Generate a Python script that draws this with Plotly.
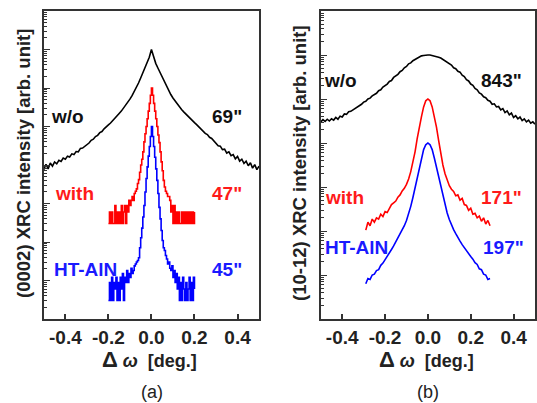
import numpy as np
import plotly.graph_objects as go

# ---------------- data (log10 of XRC intensity, arb. unit) ----------------
# Panel (a): (0002) rocking curves
xa_wide = np.round(np.arange(-0.50, 0.5001, 0.01), 3)
a_wo_log = [
    3.88, 4.02, 3.90, 4.05, 3.97, 4.08, 4.03, 4.12, 4.09, 4.18,
    4.15, 4.23, 4.21, 4.29, 4.27, 4.35, 4.34, 4.43, 4.44, 4.48,
    4.54, 4.57, 4.64, 4.67, 4.74, 4.77, 4.84, 4.87, 4.94, 4.98,
    5.04, 5.09, 5.16, 5.22, 5.27, 5.34, 5.40, 5.47, 5.54, 5.62,
    5.71, 5.80, 5.90, 6.00, 6.13, 6.26, 6.40, 6.53, 6.65, 6.80,
    7.00,
    6.80, 6.64, 6.52, 6.40, 6.28, 6.16, 6.04, 5.93, 5.83, 5.74,
    5.66, 5.58, 5.51, 5.44, 5.38, 5.32, 5.27, 5.21, 5.15, 5.10,
    5.05, 4.99, 4.93, 4.89, 4.82, 4.79, 4.72, 4.69, 4.62, 4.58,
    4.50, 4.49, 4.40, 4.41, 4.31, 4.34, 4.24, 4.27, 4.16, 4.22,
    4.10, 4.15, 4.04, 4.10, 3.98, 4.06, 3.92, 4.01, 3.88, 3.97,
]
xa_narrow = np.round(np.arange(-0.200, 0.2001, 0.005), 4)
a_with_log = [
    2.48, 2.78, 2.48, 2.78, 2.48, 2.48, 2.95, 2.48, 2.78, 2.48,
    2.78, 2.48, 2.95, 2.48, 2.78, 2.95, 2.48, 2.95, 2.78, 3.08,
    2.95, 3.08, 3.18, 3.08, 3.26, 3.32, 3.38, 3.52, 3.62, 3.81,
    4.00, 4.15, 4.34, 4.60, 4.81, 5.00, 5.20, 5.40, 5.60, 5.81,
    6.00,
    5.81, 5.60, 5.40, 5.20, 5.00, 4.78, 4.58, 4.34, 4.08, 3.85,
    3.60, 3.43, 3.32, 3.26, 3.18, 3.18, 3.08, 2.78, 2.95, 2.48,
    2.95, 2.48, 2.78, 2.48, 2.78, 2.48, 2.48, 2.78, 2.48, 2.78,
    2.48, 2.78, 2.48, 2.78, 2.48, 2.78, 2.48, 2.78, 2.48, 2.78,
]
a_ht_log = [
    0.48, 0.95, 0.48, 1.08, 0.48, 0.95, 0.78, 1.08, 0.48, 0.95,
    0.48, 1.08, 0.78, 1.18, 0.48, 1.08, 0.95, 1.26, 0.95, 1.18,
    1.08, 1.32, 1.18, 1.26, 1.38, 1.43, 1.48, 1.52, 1.59, 1.85,
    2.11, 2.36, 2.65, 2.95, 3.30, 3.65, 3.95, 4.23, 4.48, 4.74,
    5.00,
    4.74, 4.48, 4.20, 3.90, 3.60, 3.26, 2.90, 2.60, 2.30, 2.04,
    1.85, 1.78, 1.65, 1.56, 1.43, 1.48, 1.32, 1.26, 1.38, 1.08,
    1.26, 0.95, 1.18, 0.78, 1.08, 0.48, 0.95, 0.48, 1.08, 0.78,
    0.48, 0.95, 0.48, 0.78, 1.08, 0.48, 0.95, 0.48, 1.08, 0.78,
]

# Panel (b): (10-12) rocking curves
xb_wide = np.round(np.arange(-0.50, 0.5001, 0.01), 3)
b_wo_log = [
    4.48, 4.53, 4.49, 4.54, 4.50, 4.55, 4.52, 4.58, 4.54, 4.61,
    4.59, 4.66, 4.65, 4.71, 4.72, 4.75, 4.80, 4.81, 4.86, 4.88,
    4.93, 4.95, 5.00, 5.02, 5.07, 5.10, 5.13, 5.19, 5.21, 5.27,
    5.30, 5.34, 5.40, 5.42, 5.49, 5.52, 5.56, 5.62, 5.65, 5.71,
    5.74, 5.80, 5.82, 5.87, 5.90, 5.93, 5.96, 5.98, 5.99, 6.00,
    6.00,
    6.00, 5.99, 5.98, 5.97, 5.95, 5.93, 5.90, 5.88, 5.83, 5.80,
    5.77, 5.71, 5.69, 5.63, 5.61, 5.54, 5.51, 5.44, 5.41, 5.34,
    5.31, 5.24, 5.21, 5.14, 5.11, 5.05, 5.03, 4.97, 4.95, 4.88,
    4.89, 4.82, 4.83, 4.75, 4.78, 4.69, 4.73, 4.64, 4.68, 4.58,
    4.62, 4.55, 4.59, 4.51, 4.55, 4.48, 4.52, 4.45, 4.48, 4.43,
]
xb_narrow = np.round(np.arange(-0.29, 0.2901, 0.01), 3)
b_with_log = [
    2.02, 2.20, 2.12, 2.27, 2.20, 2.30, 2.27, 2.38, 2.33, 2.44,
    2.42, 2.52, 2.60, 2.64, 2.68, 2.77, 2.82, 2.91, 2.97, 3.06,
    3.18, 3.35, 3.55, 3.80, 4.10, 4.38, 4.60, 4.82, 4.96,
    5.00,
    4.96, 4.82, 4.60, 4.36, 4.06, 3.76, 3.50, 3.30, 3.14, 3.03,
    2.95, 2.90, 2.80, 2.82, 2.70, 2.74, 2.60, 2.58, 2.47, 2.52,
    2.38, 2.40, 2.30, 2.34, 2.22, 2.30, 2.16, 2.24, 2.12,
]
b_ht_log = [
    0.80, 0.92, 0.90, 1.00, 1.02, 1.10, 1.12, 1.22, 1.27, 1.34,
    1.42, 1.50, 1.58, 1.66, 1.75, 1.83, 1.92, 2.02, 2.12, 2.24,
    2.38, 2.56, 2.76, 2.97, 3.20, 3.45, 3.66, 3.85, 3.96,
    4.00,
    3.96, 3.85, 3.66, 3.45, 3.20, 2.97, 2.77, 2.58, 2.41, 2.26,
    2.13, 2.03, 1.94, 1.84, 1.77, 1.69, 1.62, 1.54, 1.48, 1.42,
    1.36, 1.28, 1.24, 1.14, 1.12, 1.02, 1.00, 0.90, 0.92,
]

x_ticks = [-0.4, -0.2, 0.0, 0.2, 0.4]
x_ticktext = ["-0.4", "-0.2", "0.0", "0.2", "0.4"]
a_decades = 8
b_decades = 7

labels_a = [("w/o", "69\""), ("with", "47\""), ("HT-AlN", "45\"")]
labels_b = [("w/o", "843\""), ("with", "171\""), ("HT-AlN", "197\"")]

# ---------------- styling ----------------
W, H = 537, 403
BLACK, RED, BLUE = "#000000", "#ff0000", "#0000ff"
TXT_RED, TXT_BLUE = "#ff1a1a", "#1a1aff"
AX = "#333333"
FONT = "Liberation Sans, Arial, sans-serif"
LBL = 19


def px(x):
    return x / W


def py(y):
    return 1 - y / H


fig = go.Figure()

line_w = 1.6
fig.add_trace(go.Scatter(x=xa_wide, y=a_wo_log, mode="lines", line=dict(color=BLACK, width=line_w), xaxis="x", yaxis="y"))
fig.add_trace(go.Scatter(x=xa_narrow, y=a_with_log, mode="lines", line=dict(color=RED, width=line_w, shape="hv"), xaxis="x", yaxis="y"))
fig.add_trace(go.Scatter(x=xa_narrow, y=a_ht_log, mode="lines", line=dict(color=BLUE, width=line_w, shape="hv"), xaxis="x", yaxis="y"))

fig.add_trace(go.Scatter(x=xb_wide, y=b_wo_log, mode="lines", line=dict(color=BLACK, width=line_w), xaxis="x2", yaxis="y2"))
fig.add_trace(go.Scatter(x=xb_narrow, y=b_with_log, mode="lines", line=dict(color=RED, width=line_w), xaxis="x2", yaxis="y2"))
fig.add_trace(go.Scatter(x=xb_narrow, y=b_ht_log, mode="lines", line=dict(color=BLUE, width=line_w), xaxis="x2", yaxis="y2"))


def minor_vals(n):
    return [d + np.log10(k) for d in range(n) for k in range(2, 10)]


xaxis_common = dict(
    range=[-0.5, 0.5], tickmode="array", tickvals=x_ticks, ticktext=x_ticktext,
    ticks="inside", ticklen=5, tickwidth=1.5, tickcolor=AX,
    showline=True, linecolor=AX, linewidth=1.8, mirror=True,
    showgrid=False, zeroline=False,
    tickfont=dict(family=FONT, size=LBL, color="#222222", weight="bold"),
)


def yaxis_common(n):
    return dict(
        range=[0, n], tickmode="array", tickvals=list(range(n + 1)),
        ticks="inside", ticklen=6, tickwidth=1.3, tickcolor=AX,
        showticklabels=False,
        minor=dict(tickmode="array", tickvals=minor_vals(n), ticks="inside", ticklen=3, tickwidth=1, tickcolor=AX),
        showline=True, linecolor=AX, linewidth=1.8, mirror=True,
        showgrid=False, zeroline=False,
    )


y_dom = [py(319), py(11)]
fig.update_layout(
    width=W, height=H, margin=dict(l=0, r=0, t=0, b=0),
    paper_bgcolor="white", plot_bgcolor="white", showlegend=False,
    xaxis=dict(domain=[px(44), px(260)], anchor="y", **xaxis_common),
    yaxis=dict(domain=y_dom, anchor="x", **yaxis_common(a_decades)),
    xaxis2=dict(domain=[px(322), 1.0], anchor="y2", **xaxis_common),
    yaxis2=dict(domain=y_dom, anchor="x2", **yaxis_common(b_decades)),
)

ann = []


def add_text(x, y, text, color="#111111", size=LBL, angle=0, bold=True):
    t = f"<b>{text}</b>" if bold else text
    ann.append(dict(x=px(x), y=py(y), xref="paper", yref="paper", text=t, showarrow=False,
                    textangle=angle, font=dict(family=FONT, size=size, color=color),
                    xanchor="center", yanchor="middle"))


# panel (a) labels
add_text(68, 117, labels_a[0][0])
add_text(228, 117, labels_a[0][1])
add_text(75, 193, labels_a[1][0], TXT_RED)
add_text(228, 193, labels_a[1][1], TXT_RED)
add_text(86, 269, labels_a[2][0], TXT_BLUE)
add_text(228, 269, labels_a[2][1], TXT_BLUE)
# panel (b) labels
add_text(342, 80, labels_b[0][0])
add_text(503, 80, labels_b[0][1])
add_text(346, 197, labels_b[1][0], TXT_RED)
add_text(503, 197, labels_b[1][1], TXT_RED)
add_text(358, 247, labels_b[2][0], TXT_BLUE)
add_text(505, 247, labels_b[2][1], TXT_BLUE)

# axis titles
add_text(24, 163, "(0002) XRC intensity [arb. unit]", "#222222", 18.5, -90)
add_text(301, 163, "(10-12) XRC intensity [arb. unit]", "#222222", 18.5, -90)
xt = "<span style='font-size:22px'>Δ</span> <i>ω</i>  [deg.]"
add_text(150, 359, xt, "#222222", 18)
add_text(428, 359, xt, "#222222", 18)
add_text(153, 392, "(a)", "#222222", 18, bold=False)
add_text(430, 392, "(b)", "#222222", 18, bold=False)

fig.update_layout(annotations=ann)
fig.write_html(
    "out.html",
    config={"displayModeBar": False},
    post_script="document.body.style.margin='0';document.body.style.overflow='hidden';",
)
